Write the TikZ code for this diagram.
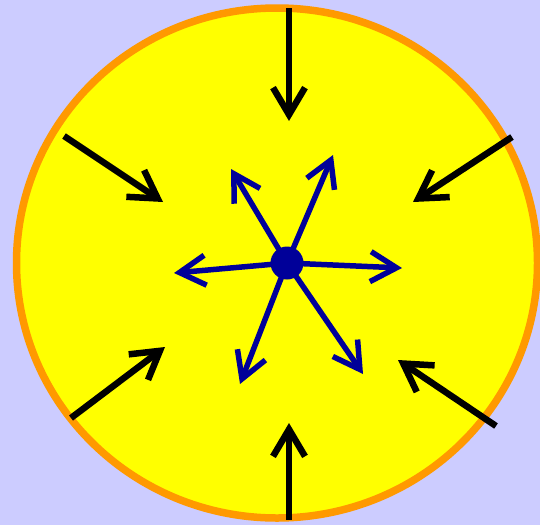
\documentclass[tikz,border=0pt]{standalone}
\usetikzlibrary{arrows.meta,shapes.geometric}
\definecolor{bg}{HTML}{CCCCFF}
\definecolor{orng}{HTML}{FF9900}
\definecolor{ylw}{HTML}{FFFF00}
\definecolor{dblue}{HTML}{000099}
\tikzset{
  inarrow/.style={draw=black,line width=6.5pt,-{Straight Barb[length=27pt,width=32pt,line width=6.5pt]}},
  outarrow/.style={draw=dblue,line width=5.5pt,-{Straight Barb[length=26pt,width=30pt,line width=5.5pt]}},
}
\begin{document}
\begin{tikzpicture}[x=1pt,y=-1pt]
\useasboundingbox[fill=bg] (0,0) rectangle (540,525);
\node[draw=orng,fill=ylw,line width=7.5pt,ellipse,minimum width=521pt,minimum height=510pt,inner sep=0pt] (ball) at (277,263) {};
% inward arrows
\coordinate (t0) at (289,8);   \coordinate (t1) at (289,121);
\coordinate (b0) at (289,520); \coordinate (b1) at (289,423);
\coordinate (ul0) at (64,136); \coordinate (ul1) at (163,202);
\coordinate (ur0) at (512,137);\coordinate (ur1) at (413,202);
\coordinate (ll0) at (71,418); \coordinate (ll1) at (165,347);
\coordinate (lr0) at (496,426);\coordinate (lr1) at (398,360);
\draw[inarrow] (t0) -- (t1);
\draw[inarrow] (b0) -- (b1);
\draw[inarrow] (ul0) -- (ul1);
\draw[inarrow] (ur0) -- (ur1);
\draw[inarrow] (ll0) -- (ll1);
\draw[inarrow] (lr0) -- (lr1);
% center
\node[circle,fill=dblue,minimum size=33pt,inner sep=0pt] (c) at (287,263) {};
\coordinate (o1) at (231,169);
\coordinate (o2) at (333,155);
\coordinate (o3) at (402,268);
\coordinate (o4) at (174,273);
\coordinate (o5) at (240,384);
\coordinate (o6) at (363,374);
\foreach \o in {o1,o2,o3,o4,o5,o6}{\draw[outarrow] (c.center) -- (\o);}
\end{tikzpicture}
\end{document}
